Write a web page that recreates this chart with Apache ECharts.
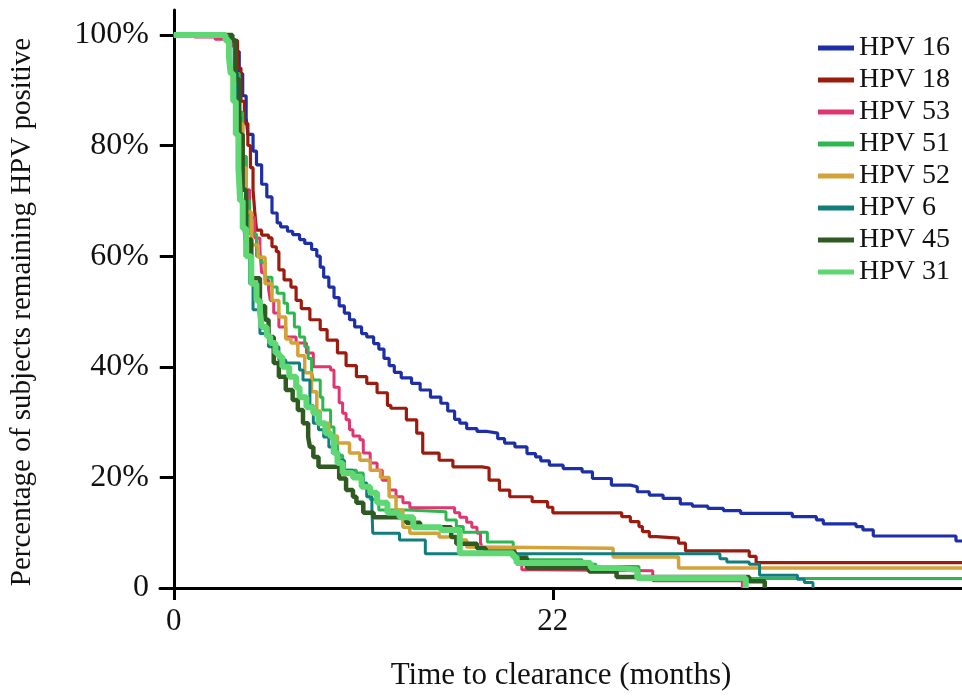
<!DOCTYPE html>
<html>
<head>
<meta charset="utf-8">
<script src="https://cdn.jsdelivr.net/npm/echarts@6/dist/echarts.min.js"></script>
<style>
  html, body { margin: 0; padding: 0; background: #fff; }
  #chart { width: 962px; height: 700px; }
</style>
</head>
<body>
<div id="chart"></div>
<script>
// ---- Data (months, % remaining positive) ----
const seriesNames = ['HPV 16', 'HPV 18', 'HPV 53', 'HPV 51', 'HPV 52', 'HPV 6', 'HPV 45', 'HPV 31'];
const xTickValues = [0, 22];
const yTickValues = [0, 20, 40, 60, 80, 100];

const hpv16 = [[0,100],[3.4,99],[3.6,97],[3.8,93],[4.0,89],[4.2,85],[4.3,82],[4.6,79],[4.8,76.5],[5.1,73],[5.4,70.7],[5.7,67.8],[6.0,66],[6.2,65.3],[6.6,64.5],[6.9,63.9],[7.3,63],[7.6,62.3],[8.0,61.2],[8.3,60],[8.5,58],[8.7,56.2],[9.0,54.4],[9.3,52.5],[9.6,51],[9.9,49.7],[10.2,48.5],[10.5,47.2],[10.9,46],[11.2,45.4],[11.6,44.2],[11.9,43.2],[12.2,41.5],[12.5,40.2],[12.8,39],[13.2,38],[13.8,37],[14.3,35.8],[14.9,34.5],[15.5,33.4],[15.9,32],[16.3,30.5],[16.6,29.8],[17.0,28.8],[17.6,28.3],[18.2,28],[18.8,27],[19.2,26.2],[19.8,25.5],[20.5,24.3],[21.0,23.7],[21.3,23],[21.8,22.2],[22.6,21.6],[23.7,21.0],[24.3,19.8],[25.4,18.6],[26.5,18.3],[26.9,17.4],[27.6,16.8],[28.4,16.2],[29.4,15.2],[30.1,14.8],[31.0,14.4],[31.9,14.0],[32.9,13.5],[35.9,12.9],[37.3,12.3],[37.7,11.6],[39.6,11.1],[40.0,10.5],[40.6,9.4],[45.4,8.5],[46,8.5]];

const hpv18 = [[0,100],[3.4,99],[3.7,94],[3.9,88],[4.1,84],[4.3,80],[4.45,76],[4.6,72],[4.7,68],[4.8,64.7],[5.1,63.8],[5.5,63.3],[5.7,61.7],[5.95,60.8],[6.1,57.5],[6.4,55.7],[6.8,54.4],[7.1,52],[7.4,50.5],[7.9,48.5],[8.5,46.7],[8.9,44.8],[9.5,42.5],[10.0,40.2],[10.6,38.2],[11.2,37],[11.8,35.3],[12.4,33],[12.6,32.5],[13.5,30.4],[14.1,28],[14.45,24.4],[15.4,23.1],[16.2,21.9],[17.9,21.7],[18.3,19.5],[18.9,17.7],[19.5,16.5],[20.8,15.6],[21.7,14.6],[22.0,13.6],[26.0,12.9],[26.5,12.0],[27.0,11.1],[27.2,10.2],[27.6,9.3],[28.0,9.0],[29.3,8.1],[29.7,6.7],[33.4,5.7],[33.8,4.6],[46,4.6]];

const hpv53 = [[0,100],[1.2,99.6],[2.4,99.2],[3.4,98],[3.6,92],[3.8,85],[4.0,78],[4.2,72],[4.4,67],[4.7,63.3],[5.0,61],[5.1,57],[5.3,55.7],[5.5,54],[5.6,52],[5.8,49.7],[6.1,47.2],[6.5,45.4],[7.1,44.3],[7.7,42.5],[8.1,40],[9.1,39.4],[9.3,36.3],[9.6,33.5],[9.8,31.6],[10.0,30.4],[10.2,28.6],[10.4,27.5],[10.8,26.8],[11.0,24.4],[11.4,22.6],[11.8,21.3],[12.1,19.5],[12.5,17.7],[12.9,16.5],[13.3,15.4],[13.7,14.5],[16.3,13.6],[16.6,12.8],[17.0,11.9],[17.3,11],[17.6,9.9],[17.8,8.3],[17.9,7.2],[19.8,5.0],[20.2,3.3],[21.0,3.1],[27.8,1.3],[33.0,0]];

const hpv51 = [[0,100],[3.4,99],[3.6,93],[3.8,86],[4.0,78],[4.2,70],[4.4,64],[4.8,60],[5.1,58.8],[5.3,56.2],[5.7,54.4],[6.0,53.3],[6.4,51.5],[6.6,49.7],[7.0,47.2],[7.3,45.4],[7.6,43.6],[7.8,41.5],[8.0,39],[8.1,37.6],[8.5,34.5],[8.65,32.2],[9.1,29.1],[9.3,26.5],[9.5,24],[9.8,21.3],[10.6,20.8],[11.0,18.5],[11.4,16],[11.9,14.1],[13.5,13.8],[15.8,12.3],[16.4,11.1],[16.8,10.1],[18.2,8.3],[19.7,6.0],[20.5,5.1],[23.7,4.3],[24.5,3.9],[27.0,1.7],[46,1.7]];

const hpv52 = [[0,100],[3.4,99],[3.6,92],[3.8,84],[4.0,76],[4.2,68],[4.5,62],[4.9,59.8],[5.3,55],[5.7,52],[6.1,49],[6.5,45],[6.8,44.3],[7.2,42],[7.6,38.9],[8.0,35.5],[8.3,32],[8.5,29.8],[9.0,27.5],[9.5,26.2],[10.2,24.4],[10.8,23.1],[11.4,21.3],[12.0,20],[12.5,16.5],[12.9,14.1],[13.3,11],[13.7,9.9],[15.4,9.2],[16.4,8.7],[17.0,7.4],[17.4,7.2],[25.5,5.6],[29.3,3.6],[46,3.6]];

const hpv6 = [[0,100],[3.3,99],[3.5,93],[3.7,85],[3.85,77],[3.95,70],[4.0,67.8],[4.1,64],[4.2,60.6],[4.4,55],[4.6,50.3],[5.0,46],[5.5,43.6],[6.1,41.2],[6.5,40.7],[7.3,39.4],[7.5,37.6],[7.9,33],[8.1,29.8],[8.4,28.6],[8.7,27.3],[9.0,25.5],[9.2,24.4],[9.6,23.1],[9.9,21.3],[10.4,19.9],[11.0,19],[11.2,16.5],[11.5,14.1],[11.55,9.9],[13.1,8.7],[14.6,6.2],[31.7,5.3],[32.1,4.7],[33.4,4.3],[34.0,2.3],[36.2,1.6],[36.6,1.0],[37.1,0]];

const hpv45 = [[0,100],[3.4,99],[3.6,92],[3.8,82],[4.0,72],[4.2,63],[4.5,56],[5.0,51],[5.3,48.5],[5.5,45.4],[5.8,40.7],[6.1,38.2],[6.5,35.8],[6.9,34],[7.2,32.2],[7.5,29.8],[7.8,27.3],[7.9,25.5],[8.1,23.7],[8.4,21.9],[9.6,19.8],[10.0,17.7],[10.4,16.5],[10.6,15.4],[11.0,13.6],[11.6,12.8],[13.5,11.8],[14.3,11],[16.1,9.2],[16.4,8.0],[17.6,7.2],[18.1,6.5],[19.8,5.4],[20.5,3.6],[24.1,3.0],[25.7,2.0],[33.4,1.2],[34.3,0]];

const hpv31 = [[0,100],[3.0,99],[3.2,96],[3.3,93],[3.45,88],[3.6,82],[3.75,76],[3.85,70],[4.0,65],[4.2,60],[4.5,55],[4.8,52],[5.0,50],[5.1,47.2],[5.4,45.5],[5.6,44.3],[5.9,42.5],[6.1,41.8],[6.3,40],[6.7,38.2],[7.1,36.3],[7.3,34.5],[7.7,32.7],[8.1,31.6],[8.4,29.8],[8.8,28],[9.1,27.3],[9.3,24.4],[9.5,22.6],[9.8,20.8],[10.4,20],[10.9,18.3],[11.4,17.2],[11.8,15.4],[12.4,13.6],[13.1,12.8],[13.9,11],[15.5,10.5],[16.6,6.3],[19.7,5.6],[19.9,4.5],[24.2,3.6],[25.7,3.3],[26.9,1.8],[33.2,0]];

const seriesData = [hpv16, hpv18, hpv53, hpv51, hpv52, hpv6, hpv45, hpv31];
const seriesColors = ['#1c2fa8', '#9b1b0e', '#e0356e', '#2cb84f', '#d4a23a', '#117e7d', '#2f5b23', '#5fd874'];
const seriesWidths = [3.2, 3.2, 3, 3, 3.5, 3, 4.5, 6];

const FONT = 'Liberation Serif';
const chart = echarts.init(document.getElementById('chart'), null, { renderer: 'canvas' });

const option = {
  animation: false,
  backgroundColor: '#ffffff',
  grid: { left: 160, right: 0, top: 10, bottom: 112, containLabel: false, outerBoundsMode: 'none' },
  legend: {
    orient: 'vertical',
    left: 813,
    top: 29,
    icon: 'rect',
    itemWidth: 36,
    itemHeight: 5,
    itemGap: 4,
    textStyle: { fontFamily: FONT, fontSize: 28, color: '#111', lineHeight: 28 },
    data: seriesNames
  },
  xAxis: {
    type: 'value',
    min: -0.8,
    max: 45.75,
    axisLine: { onZero: true, lineStyle: { color: '#000', width: 3 } },
    axisTick: { customValues: xTickValues, length: 12, lineStyle: { color: '#000', width: 3 } },
    axisLabel: { customValues: xTickValues, margin: 18, fontFamily: FONT, fontSize: 31, color: '#111' },
    splitLine: { show: false },
    name: 'Time to clearance (months)',
    nameLocation: 'middle',
    nameGap: 72,
    nameTextStyle: { fontFamily: FONT, fontSize: 31, color: '#111' }
  },
  yAxis: {
    type: 'value',
    min: 0,
    max: 104.5,
    axisLine: { onZero: true, lineStyle: { color: '#000', width: 3 } },
    axisTick: { customValues: yTickValues, length: 14, lineStyle: { color: '#000', width: 3 } },
    axisLabel: {
      customValues: yTickValues, margin: 11, fontFamily: FONT, fontSize: 32, color: '#111',
      formatter: v => (v === 0 ? '0' : v + '%')
    },
    splitLine: { show: false },
    name: 'Percentage of subjects remaining HPV positive',
    nameLocation: 'middle',
    nameGap: 123,
    nameTextStyle: { fontFamily: FONT, fontSize: 29, color: '#111', padding: [0, 26, 0, 0] }
  },
  series: seriesNames.map((name, i) => ({
    type: 'line',
    name: name,
    data: seriesData[i],
    step: 'end',
    symbol: 'none',
    showSymbol: false,
    lineStyle: { color: seriesColors[i], width: seriesWidths[i] },
    itemStyle: { color: seriesColors[i] },
    emphasis: { disabled: true }
  }))
};
chart.setOption(option);
</script>
</body>
</html>
